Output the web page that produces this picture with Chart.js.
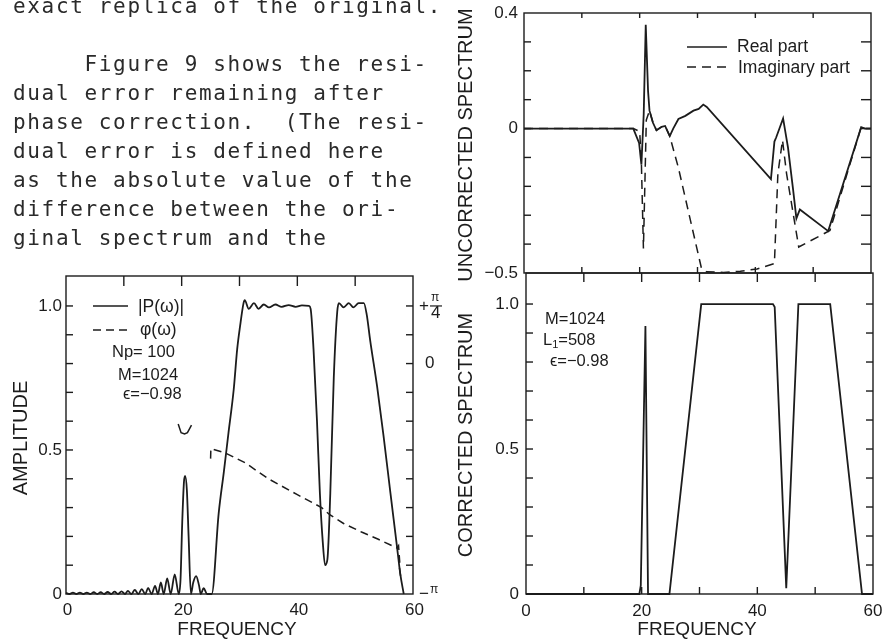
<!DOCTYPE html>
<html><head><meta charset="utf-8">
<script src="https://cdn.jsdelivr.net/npm/chart.js@4.4.1/dist/chart.umd.min.js"></script>
<style>
html,body{margin:0;padding:0;background:#fff;width:891px;height:639px;overflow:hidden}
canvas{position:absolute;left:0;top:0}
#txt{position:absolute;left:13px;top:-8px;margin:0;font-family:"DejaVu Sans Mono",monospace;font-size:21px;line-height:29px;letter-spacing:1.66px;color:#2a2a2a;white-space:pre}
</style></head><body>
<canvas id="cUnc" width="891" height="639"></canvas>
<canvas id="cAmp" width="891" height="639"></canvas>
<canvas id="cCor" width="891" height="639"></canvas>
<pre id="txt">exact replica of the original.

     Figure 9 shows the resi-
dual error remaining after
phase correction.  (The resi-
dual error is defined here
as the absolute value of the
difference between the ori-
ginal spectrum and the</pre>
<script>
// ---- uncorrected spectrum: real and imaginary parts ----
const uncFreq = [0, 18.9, 19.9, 20.3, 20.7, 21.05, 21.45, 21.7, 22.3, 22.9, 23.8, 24.4, 25.2, 25.8, 26.7, 27.9, 29.3, 30.2, 31.0, 31.6, 42.7, 43.3, 43.6, 44.8, 45.65, 46.5, 47.1, 47.7, 52.6, 58.3, 59.0, 60];
const uncReal = [0, 0, -0.05, -0.125, 0.05, 0.359, 0.13, 0.062, 0.02, -0.006, 0.006, 0.009, -0.026, 0, 0.033, 0.044, 0.062, 0.068, 0.083, 0.075, -0.175, -0.045, -0.031, 0.035, -0.066, -0.206, -0.311, -0.28, -0.355, 0.005, 0, 0];
const uncImFreq = [0, 18.9, 20.0, 20.3, 20.65, 21.15, 21.7, 22.3, 22.9, 23.8, 24.4, 25.2, 26.7, 28.7, 30.7, 31.6, 34.5, 37.4, 40.3, 43.3, 43.9, 44.7, 45.4, 47.5, 52.9, 58.3, 59.0, 60];
const uncImag = [0, 0, -0.01, -0.12, -0.415, 0.03, 0.062, 0.02, -0.006, 0.006, 0.009, -0.026, -0.136, -0.311, -0.485, -0.496, -0.498, -0.494, -0.486, -0.467, -0.156, -0.04, -0.156, -0.41, -0.353, 0.005, 0, 0];

// ---- amplitude |P(w)| and phase phi(w) (phase in units of pi) ----
const ampFreq = [0.0, 0.6, 1.2, 1.8, 2.4, 3.0, 3.6, 4.2, 4.8, 5.4, 6.0, 6.6, 7.2, 7.8, 8.4, 9.0, 9.6, 10.2, 10.7, 11.3, 11.9, 12.5, 13.1, 13.7, 14.2, 14.8, 15.4, 15.9, 16.4, 16.9, 17.5, 18.1, 18.8, 19.5, 19.8, 20.1, 20.4, 20.6, 20.9, 21.2, 21.6, 22.0, 22.5, 23.0, 23.3, 23.8, 24.4, 25.2, 26.4, 27.3, 28.1, 29.0, 29.6, 30.1, 30.7, 30.9, 31.6, 32.5, 33.3, 34.2, 35.1, 36.2, 37.3, 38.5, 39.7, 40.8, 42.0, 42.3, 42.8, 43.4, 43.9, 44.4, 44.8, 45.2, 45.7, 46.3, 46.9, 47.2, 48.0, 48.9, 49.7, 50.6, 51.5, 52.0, 52.6, 53.8, 54.9, 56.1, 57.2, 57.8, 58.4];
const ampVals = [0.004, 0.0, 0.005, 0.0, 0.005, 0.0, 0.005, 0.0, 0.006, 0.0, 0.006, 0.0, 0.007, 0.0, 0.008, 0.0, 0.009, 0.0, 0.011, 0.0, 0.014, 0.0, 0.017, 0.0, 0.021, 0.0, 0.028, 0.0, 0.040, 0.0, 0.054, 0.0, 0.068, 0.0, 0.05, 0.25, 0.39, 0.41, 0.36, 0.2, 0.0, 0.04, 0.062, 0.03, 0.0, 0.02, 0.0, 0.0, 0.28, 0.425, 0.56, 0.71, 0.85, 0.93, 1.01, 1.02, 0.99, 1.01, 0.99, 1.005, 0.995, 1.005, 0.997, 1.003, 0.997, 1.002, 1.0, 0.99, 0.85, 0.6, 0.35, 0.18, 0.1, 0.12, 0.35, 0.75, 0.98, 1.01, 0.995, 1.01, 0.995, 1.01, 1.01, 0.97, 0.88, 0.72, 0.55, 0.35, 0.17, 0.07, 0.0];
const phaseFreq = [19.4, 19.9, 20.5, 21.0, 21.7, 23.0, 25.0, 25.05, 27.5, 31, 35, 40, 44.2, 45.6, 48, 51.1, 54, 57.2, 57.5, 57.7, 57.6, 57.9];
const phaseVals = [-0.2625, -0.3, -0.305, -0.3, -0.2675, null, -0.4125, -0.369, -0.3875, -0.431, -0.5, -0.569, -0.625, -0.656, -0.694, -0.731, -0.7625, -0.80, -0.79, -0.86, -0.875, -0.93];

// ---- corrected spectrum ----
const corFreq = [0, 19.6, 19.85, 20.65, 21.1, 24.8, 30.3, 42.7, 43.0, 45.0, 47.1, 52.6, 58.1, 60];
const corVals = [0, 0, 0.03, 0.924, 0, 0, 1.0, 1.0, 0.99, 0.02, 1.0, 1.0, 0, 0];

// ---- tick values and labels ----
const freqMinor = [10, 20, 30, 40, 50];
const freqTicks = [0, 20, 40, 60];
const freqLabels = ['0', '20', '40', '60'];
const uncMinor = [-0.4, -0.3, -0.2, -0.1, 0, 0.1, 0.2, 0.3];
const uncTicks = [0.4, 0, -0.5];
const uncLabels = ['0.4', '0', '\u22120.5'];
const ampMinor = [0.1, 0.2, 0.3, 0.4, 0.5, 0.6, 0.7, 0.8, 0.9, 1.0];
const ampTicks = [0, 0.5, 1.0];
const ampLabels = ['0', '0.5', '1.0'];
const phaseTicks = [0.25, 0, -1];

const INK = '#1c1c1c';
const SANS = '"Liberation Sans", Arial, sans-serif';
const pts = (xs, ys) => xs.map((x, i) => ({x, y: ys[i]}));

function phaseLabel(ctx, v, x, y) {
  ctx.textAlign = 'left'; ctx.textBaseline = 'middle';
  if (v === 0.25) {
    ctx.font = '17px ' + SANS; ctx.fillText('+', x, y);
    ctx.font = '12px ' + SANS; ctx.fillText('\u03c0', x + 12, y - 8);
    ctx.font = '17px ' + SANS; ctx.fillText('4', x + 12, y + 7);
    ctx.beginPath(); ctx.moveTo(x + 11, y); ctx.lineTo(x + 23, y); ctx.lineWidth = 1.2; ctx.stroke();
  } else if (v === 0) {
    ctx.font = '17px ' + SANS; ctx.fillText('0', x + 6, y);
  } else {
    ctx.font = '17px ' + SANS; ctx.fillText('\u2212', x, y);
    ctx.font = '12px ' + SANS; ctx.fillText('\u03c0', x + 11, y - 4);
  }
}

const chrome = {
  id: 'chrome',
  afterDatasetsDraw(chart, args, o) {
    const {ctx, chartArea: a, scales} = chart;
    ctx.save();
    ctx.strokeStyle = INK; ctx.fillStyle = INK; ctx.lineWidth = 1.4;
    ctx.strokeRect(a.left, a.top, a.right - a.left, a.bottom - a.top);
    (o.marks || []).forEach(m => {
      const s = scales[m.scale];
      m.values.forEach(v => {
        const p = s.getPixelForValue(v);
        ctx.beginPath();
        if (m.edge === 'bottom') { ctx.moveTo(p, a.bottom); ctx.lineTo(p, a.bottom - m.len); }
        else if (m.edge === 'top') { ctx.moveTo(p, a.top); ctx.lineTo(p, a.top + m.len); }
        else if (m.edge === 'left') { ctx.moveTo(a.left, p); ctx.lineTo(a.left + m.len, p); }
        else { ctx.moveTo(a.right, p); ctx.lineTo(a.right - m.len, p); }
        ctx.stroke();
      });
    });
    (o.labels || []).forEach(l => {
      const s = scales[l.scale];
      l.values.forEach((v, i) => {
        const p = s.getPixelForValue(v);
        ctx.font = l.font;
        if (l.edge === 'bottom') {
          ctx.textAlign = 'center'; ctx.textBaseline = 'middle';
          ctx.fillText(l.text[i], p + (l.dx || 0), a.bottom + l.gap);
        } else if (l.edge === 'left') {
          ctx.textAlign = 'right'; ctx.textBaseline = 'middle';
          ctx.fillText(l.text[i], a.left - l.gap, p);
        } else {
          phaseLabel(ctx, v, a.right + l.gap, p);
        }
      });
    });
    (o.keys || []).forEach(k => {
      ctx.beginPath(); ctx.lineWidth = 1.6;
      ctx.setLineDash(k.dash || []);
      ctx.moveTo(k.x1, k.y); ctx.lineTo(k.x2, k.y); ctx.stroke();
      ctx.setLineDash([]);
    });
    (o.notes || []).forEach(n => {
      ctx.save();
      ctx.translate(n.x, n.y);
      if (n.rot) ctx.rotate(n.rot);
      ctx.font = n.font;
      ctx.textAlign = n.align || 'left'; ctx.textBaseline = 'middle';
      ctx.fillText(n.text, 0, 0);
      if (n.sub) {
        const w = ctx.measureText(n.text).width;
        ctx.font = n.subFont; ctx.fillText(n.sub, w, 5);
        const w2 = ctx.measureText(n.sub).width;
        ctx.font = n.font; ctx.fillText(n.rest, w + w2, 0);
      }
      ctx.restore();
    });
    ctx.restore();
  }
};

function baseOptions(pad, x, y, extra) {
  return {
    responsive: false, animation: false, events: [],
    layout: {padding: pad},
    scales: Object.assign({x: Object.assign({type: 'linear', display: false}, x), y: Object.assign({type: 'linear', display: false}, y)}, extra || {}),
    plugins: {legend: {display: false}, tooltip: {enabled: false}}
  };
}

const TICKF = '17px ' + SANS;
const TITLEF = '20px ' + SANS;
const KEYF = '17.5px ' + SANS;
const NOTEF = '16.5px ' + SANS;
const dashes = [9, 6];

// top right: uncorrected spectrum
const optA = baseOptions({left: 524, right: 20, top: 13, bottom: 366}, {min: 0, max: 60}, {min: -0.5, max: 0.4});
optA.plugins.chrome = {
  marks: [
    {scale: 'x', edge: 'bottom', values: freqMinor, len: 6},
    {scale: 'x', edge: 'top', values: freqMinor, len: 5},
    {scale: 'y', edge: 'left', values: uncMinor, len: 7},
    {scale: 'y', edge: 'right', values: uncMinor, len: 10}
  ],
  labels: [{scale: 'y', edge: 'left', values: uncTicks, text: uncLabels, gap: 6, font: TICKF}],
  keys: [{x1: 687, x2: 727, y: 47}, {x1: 687, x2: 727, y: 67, dash: dashes}],
  notes: [
    {text: 'Real part', x: 737, y: 47, font: KEYF},
    {text: 'Imaginary part', x: 738, y: 68, font: KEYF},
    {text: 'UNCORRECTED SPECTRUM', x: 466, y: 145, rot: -Math.PI / 2, align: 'center', font: TITLEF}
  ]
};
new Chart(document.getElementById('cUnc'), {
  type: 'line',
  data: {datasets: [
    {label: 'Real part', data: pts(uncFreq, uncReal), borderColor: INK, borderWidth: 1.8, pointRadius: 0, tension: 0, clip: false},
    {label: 'Imaginary part', data: pts(uncImFreq, uncImag), borderColor: INK, borderWidth: 1.5, borderDash: dashes, pointRadius: 0, tension: 0, clip: false}
  ]},
  options: optA, plugins: [chrome]
});

// bottom left: amplitude and phase
const optB = baseOptions({left: 66, right: 891 - 413, top: 276, bottom: 639 - 594}, {min: 0, max: 60}, {min: 0, max: 1.104},
  {yPhase: {type: 'linear', display: false, min: -1, max: -1 + 1.104 * 1.25}});
optB.plugins.chrome = {
  marks: [
    {scale: 'x', edge: 'top', values: freqMinor, len: 10},
    {scale: 'y', edge: 'left', values: ampMinor, len: 7},
    {scale: 'y', edge: 'right', values: ampMinor, len: 7}
  ],
  labels: [
    {scale: 'y', edge: 'left', values: ampTicks, text: ampLabels, gap: 4, font: TICKF},
    {scale: 'x', edge: 'bottom', values: freqTicks, text: freqLabels, gap: 16, dx: 1.5, font: TICKF},
    {scale: 'yPhase', edge: 'right', values: phaseTicks, gap: 6}
  ],
  keys: [{x1: 93, x2: 128, y: 306}, {x1: 93, x2: 131, y: 330, dash: [8, 5]}],
  notes: [
    {text: '|P(\u03c9)|', x: 138, y: 307, font: KEYF},
    {text: '\u03c6(\u03c9)', x: 140, y: 330, font: KEYF},
    {text: 'Np= 100', x: 112, y: 352, font: NOTEF},
    {text: 'M=1024', x: 118, y: 375, font: NOTEF},
    {text: '\u03f5=\u22120.98', x: 123, y: 394, font: NOTEF},
    {text: 'AMPLITUDE', x: 21, y: 438, rot: -Math.PI / 2, align: 'center', font: TITLEF},
    {text: 'FREQUENCY', x: 237, y: 630, align: 'center', font: '19px ' + SANS}
  ]
};
new Chart(document.getElementById('cAmp'), {
  type: 'line',
  data: {datasets: [
    {label: '|P(\u03c9)|', data: pts(ampFreq, ampVals), borderColor: INK, borderWidth: 1.8, pointRadius: 0, cubicInterpolationMode: 'monotone', clip: false},
    {label: '\u03c6(\u03c9)', yAxisID: 'yPhase', data: pts(phaseFreq, phaseVals), borderColor: INK, borderWidth: 1.5, borderDash: [8, 5], pointRadius: 0, tension: 0, spanGaps: false, clip: false,
      // the short phase arc over the narrow peak is a continuous stroke
      segment: {borderDash: ctx => ctx.p1.parsed.x < 23 ? [] : [8, 5]}}
  ]},
  options: optB, plugins: [chrome]
});

// bottom right: corrected spectrum
const optC = baseOptions({left: 526, right: 891 - 873, top: 273, bottom: 639 - 594}, {min: 0, max: 60}, {min: 0, max: 1.107});
optC.plugins.chrome = {
  marks: [
    {scale: 'x', edge: 'bottom', values: freqMinor, len: 7},
    {scale: 'x', edge: 'top', values: freqMinor, len: 9},
    {scale: 'y', edge: 'left', values: ampMinor, len: 7},
    {scale: 'y', edge: 'right', values: ampMinor, len: 7}
  ],
  labels: [
    {scale: 'y', edge: 'left', values: ampTicks, text: ampLabels, gap: 7, font: TICKF},
    {scale: 'x', edge: 'bottom', values: freqTicks, text: freqLabels, gap: 17, font: TICKF}
  ],
  notes: [
    {text: 'M=1024', x: 545, y: 319, font: NOTEF},
    {text: 'L', sub: '1', rest: '=508', subFont: '11px ' + SANS, x: 543, y: 340, font: NOTEF},
    {text: '\u03f5=\u22120.98', x: 550, y: 361, font: NOTEF},
    {text: 'CORRECTED SPECTRUM', x: 466, y: 435, rot: -Math.PI / 2, align: 'center', font: TITLEF},
    {text: 'FREQUENCY', x: 697, y: 630, align: 'center', font: '19px ' + SANS}
  ]
};
new Chart(document.getElementById('cCor'), {
  type: 'line',
  data: {datasets: [
    {label: 'Corrected spectrum', data: pts(corFreq, corVals), borderColor: INK, borderWidth: 1.8, pointRadius: 0, tension: 0, clip: false}
  ]},
  options: optC, plugins: [chrome]
});
</script>
</body></html>
